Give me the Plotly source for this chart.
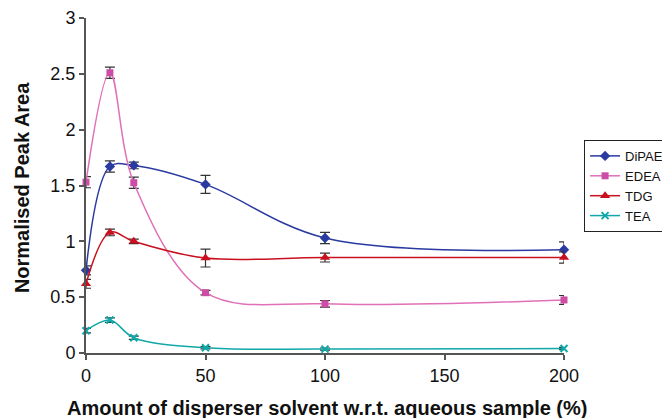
import plotly.graph_objects as go

x_vals = [0, 10, 20, 50, 100, 200]

dipae = [0.74, 1.67, 1.68, 1.51, 1.03, 0.925]
dipae_err = [0.04, 0.05, 0.03, 0.08, 0.05, 0.07]

edea = [1.53, 2.51, 1.525, 0.54, 0.44, 0.475]
edea_err = [0.05, 0.05, 0.05, 0.02, 0.03, 0.04]

tdg = [0.62, 1.08, 1.00, 0.85, 0.855, 0.855]
tdg_err = [0.04, 0.03, 0.02, 0.08, 0.04, 0.05]

tea = [0.20, 0.295, 0.137, 0.047, 0.035, 0.04]
tea_err = [0.02, 0.02, 0.015, 0.01, 0.01, 0.01]

x_title = "Amount of disperser solvent w.r.t. aqueous sample (%)"
y_title = "Normalised Peak Area"

series = [
    ("DiPAE", dipae, dipae_err, "#2a3aa0", "#2a3aa0", "diamond", 8),
    ("EDEA", edea, edea_err, "#e070b8", "#cc4ca6", "square", 7),
    ("TDG", tdg, tdg_err, "#c8101e", "#c8101e", "triangle-up", 9),
    ("TEA", tea, tea_err, "#10a8a8", "#10a8a8", "x-thin", 7),
]

fig = go.Figure()
for name, y, err, lcol, mcol, sym, size in series:
    fig.add_trace(go.Scatter(
        x=x_vals, y=y, name=name, mode="lines+markers",
        line=dict(color=lcol, width=1.5, shape="spline", smoothing=1.0),
        marker=dict(symbol=sym, size=size, color=mcol,
                    line=dict(color=mcol, width=2 if sym == "x-thin" else 0)),
        error_y=dict(type="data", array=err, visible=True,
                     color="#333333", thickness=1.2, width=5),
        cliponaxis=False,
    ))

font_family = "Liberation Sans, Arial, sans-serif"

# page body has an 8px default margin, so the figure is sized to fit the window
fig.update_layout(
    width=662, height=410,
    margin=dict(l=78, r=106, t=10, b=65, autoexpand=False),
    paper_bgcolor="white", plot_bgcolor="white",
    font=dict(family=font_family, color="#111111"),
    showlegend=True,
    legend=dict(
        x=1.042, y=0.636, xanchor="left", yanchor="top",
        bordercolor="#222222", borderwidth=1,
        font=dict(size=13, family=font_family),
        itemwidth=30, tracegroupgap=0,
        bgcolor="white",
    ),
    xaxis=dict(
        range=[0, 200], dtick=50, tick0=0, automargin=False,
        showline=True, linecolor="#555555", linewidth=2,
        ticks="outside", ticklen=5, tickcolor="#555555", tickwidth=1.5,
        showgrid=False, zeroline=False,
        tickfont=dict(size=18),
    ),
    yaxis=dict(
        range=[0, 3], dtick=0.5, tick0=0, automargin=False,
        showline=True, linecolor="#555555", linewidth=2,
        ticks="outside", ticklen=5, tickcolor="#555555", tickwidth=1.5,
        showgrid=False, zeroline=False,
        tickfont=dict(size=18),
    ),
    annotations=[
        dict(text="<b>" + x_title + "</b>", xref="paper", yref="paper",
             x=0.505, y=-0.165, xanchor="center", yanchor="middle",
             showarrow=False, font=dict(size=20)),
        dict(text="<b>" + y_title + "</b>", xref="paper", yref="paper",
             x=-0.134, y=0.495, xanchor="center", yanchor="middle",
             textangle=-90, showarrow=False, font=dict(size=20)),
    ],
)

fig.write_html("out.html")
